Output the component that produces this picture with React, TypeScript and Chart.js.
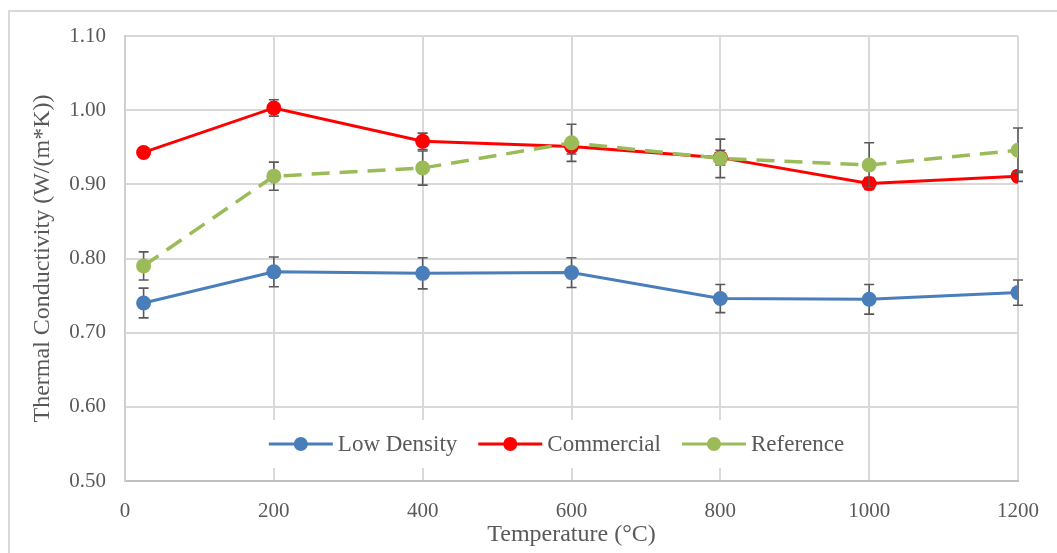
import React, { useEffect, useRef } from "react";
import { Chart, registerables } from "chart.js";

Chart.register(...registerables);

// ---- data ----
const temperatures = [25, 200, 400, 600, 800, 1000, 1200];
const lowDensity = [0.740, 0.782, 0.780, 0.781, 0.746, 0.745, 0.754];
const lowDensityErr = [0.020, 0.020, 0.021, 0.020, 0.019, 0.020, 0.017];
const commercial = [0.943, 1.003, 0.958, 0.951, 0.936, 0.901, 0.911];
const commercialErr = [0.005, 0.011, 0.011, 0.010, 0.010, 0.008, 0.007];
const reference = [0.790, 0.911, 0.922, 0.956, 0.935, 0.926, 0.946];
const referenceErr = [0.019, 0.019, 0.023, 0.025, 0.026, 0.030, 0.030];

const seriesNames = ["Low Density", "Commercial", "Reference"];
const seriesColors = ["#4a7ebb", "#ff0000", "#9bbb59"];
const xTitle = "Temperature (°C)";
const yTitle = "Thermal Conductivity (W/(m*K))";
const xMin = 0, xMax = 1200, xStep = 200;
const yMin = 0.5, yMax = 1.1, yStep = 0.1;

const FONT = "'Liberation Serif', 'Times New Roman', serif";
const TEXT = "#595959";

const errorsBySeries = [lowDensityErr, commercialErr, referenceErr];

const errorBarPlugin = {
  id: "errorBars",
  beforeDatasetDraw(chart: any, args: any) {
    const i = args.index;
    const errs = errorsBySeries[i];
    if (!errs) return;
    const ds = chart.data.datasets[i];
    const xs = chart.scales.x;
    const ys = chart.scales.y;
    const ctx = chart.ctx;
    ctx.save();
    ctx.strokeStyle = "#595959";
    ctx.lineWidth = 1.6;
    ctx.setLineDash([]);
    ds.data.forEach((pt: any, k: number) => {
      const px = xs.getPixelForValue(pt.x);
      const top = ys.getPixelForValue(pt.y + errs[k]);
      const bot = ys.getPixelForValue(pt.y - errs[k]);
      ctx.beginPath();
      ctx.moveTo(px, top);
      ctx.lineTo(px, bot);
      ctx.moveTo(px - 5, top);
      ctx.lineTo(px + 5, top);
      ctx.moveTo(px - 5, bot);
      ctx.lineTo(px + 5, bot);
      ctx.stroke();
    });
    ctx.restore();
  },
};

const frameLegendPlugin = {
  id: "frameLegend",
  beforeDraw(chart: any) {
    const ctx = chart.ctx;
    ctx.save();
    ctx.fillStyle = "#ffffff";
    ctx.fillRect(0, 0, chart.width, chart.height);
    ctx.strokeStyle = "#d9d9d9";
    ctx.lineWidth = 2;
    ctx.strokeRect(9, 11, chart.width + 20, chart.height + 20);
    ctx.restore();
  },
  afterDraw(chart: any) {
    const ctx = chart.ctx;
    const area = chart.chartArea;
    ctx.save();
    ctx.font = `23px ${FONT}`;
    const lineLen = 64;
    const textGap = 5;
    const itemGap = 21;
    const widths = seriesNames.map((n) => ctx.measureText(n).width);
    const total =
      widths.reduce((a, b) => a + b, 0) +
      seriesNames.length * (lineLen + textGap) +
      (seriesNames.length - 1) * itemGap;
    const cx = (area.left + area.right) / 2 - 15;
    const cy = area.bottom - 37;
    let x = cx - total / 2;
    ctx.fillStyle = "#ffffff";
    ctx.fillRect(x - 12, cy - 24, total + 24, 48);
    seriesNames.forEach((name, i) => {
      ctx.strokeStyle = seriesColors[i];
      ctx.lineWidth = 3;
      ctx.beginPath();
      ctx.moveTo(x, cy);
      ctx.lineTo(x + lineLen, cy);
      ctx.stroke();
      ctx.fillStyle = seriesColors[i];
      ctx.beginPath();
      ctx.arc(x + lineLen / 2, cy, 7, 0, Math.PI * 2);
      ctx.fill();
      ctx.fillStyle = TEXT;
      ctx.textBaseline = "middle";
      ctx.textAlign = "left";
      ctx.fillText(name, x + lineLen + textGap, cy + 1);
      x += lineLen + textGap + widths[i] + itemGap;
    });
    ctx.restore();
  },
};

function toPoints(vals: number[]) {
  return vals.map((v, i) => ({ x: temperatures[i], y: v }));
}

export default function App() {
  const ref = useRef<HTMLCanvasElement | null>(null);
  useEffect(() => {
    if (!ref.current) return;
    const chart = new Chart(ref.current, {
      type: "line",
      data: {
        datasets: [
          {
            label: seriesNames[0],
            data: toPoints(lowDensity),
            borderColor: seriesColors[0],
            backgroundColor: seriesColors[0],
            borderWidth: 3,
            pointRadius: 7.5,
            pointHoverRadius: 7.5,
            pointBorderWidth: 0,
            order: 3,
          },
          {
            label: seriesNames[1],
            data: toPoints(commercial),
            borderColor: seriesColors[1],
            backgroundColor: seriesColors[1],
            borderWidth: 3,
            pointRadius: 7.5,
            pointHoverRadius: 7.5,
            pointBorderWidth: 0,
            order: 2,
          },
          {
            label: seriesNames[2],
            data: toPoints(reference),
            borderColor: seriesColors[2],
            backgroundColor: seriesColors[2],
            borderWidth: 3.5,
            borderDash: [18, 10],
            pointRadius: 7.5,
            pointHoverRadius: 7.5,
            pointBorderWidth: 0,
            order: 1,
          },
        ],
      },
      options: {
        animation: false,
        responsive: false,
        layout: { padding: { top: 36, right: 36, left: 0, bottom: 0 } },
        plugins: {
          legend: { display: false },
          tooltip: { enabled: false },
        },
        scales: {
          x: {
            type: "linear",
            min: xMin,
            max: xMax,
            ticks: {
              stepSize: xStep,
              color: TEXT,
              font: { family: FONT, size: 21 },
              padding: 18,
              maxRotation: 0,
              callback: (v: any) => String(v),
            },
            grid: { color: "#d9d9d9", lineWidth: 2, drawTicks: false },
            border: { color: "#bfbfbf", width: 2 },
            title: {
              display: true,
              text: xTitle,
              color: TEXT,
              font: { family: FONT, size: 24 },
              padding: { top: 0, bottom: 4 },
            },
            afterFit: (s: any) => {
              s.height = 72;
            },
          },
          y: {
            min: yMin,
            max: yMax,
            ticks: {
              stepSize: yStep,
              color: TEXT,
              font: { family: FONT, size: 21 },
              padding: 19,
              callback: (v: any) => Number(v).toFixed(2),
            },
            grid: { color: "#d9d9d9", lineWidth: 2, drawTicks: false },
            border: { color: "#cfcfcf", width: 2 },
            title: {
              display: true,
              text: yTitle,
              color: TEXT,
              font: { family: FONT, size: 24 },
              padding: { top: 28, bottom: 0 },
            },
            afterFit: (s: any) => {
              s.width = 125;
            },
          },
        },
      },
      plugins: [errorBarPlugin, frameLegendPlugin],
    } as any);
    return () => chart.destroy();
  }, []);
  return (
    <div style={{ position: "absolute", left: 0, top: 0, width: 1057, height: 553, background: "#fff" }}>
      <canvas ref={ref} width={1057} height={553} style={{ width: 1057, height: 553, display: "block" }} />
    </div>
  );
}
